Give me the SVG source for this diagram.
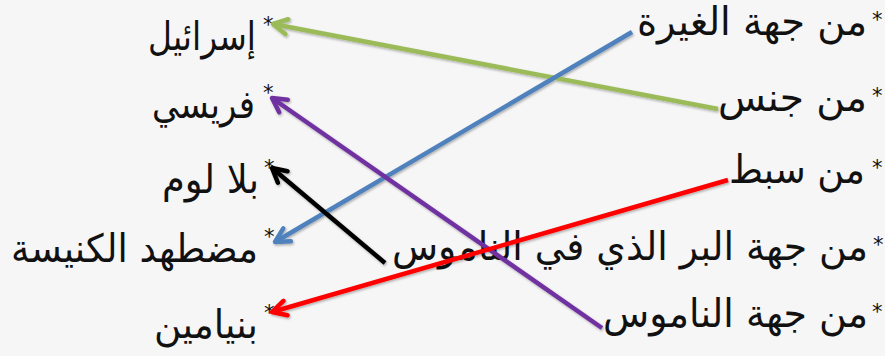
<svg xmlns="http://www.w3.org/2000/svg" width="885" height="356" viewBox="0 0 885 356">
<style>
.t{font-family:"DejaVu Sans",sans-serif;font-size:39px;fill:#111;text-anchor:end}
.s{font-family:"DejaVu Sans",sans-serif;font-size:21px;fill:#111}
.c{fill:none;stroke-width:4.5}
</style>
<defs>
<filter id="sh" x="-10%" y="-10%" width="120%" height="120%"><feDropShadow dx="1" dy="1.5" stdDeviation="1" flood-color="#000" flood-opacity="0.3"/></filter>
<marker id="mg" viewBox="0 0 20 20" refX="17" refY="10" markerWidth="20" markerHeight="20" markerUnits="userSpaceOnUse" orient="auto"><path d="M3,2.5 L17,10 L3,17.5" fill="none" stroke="#9bbb59" stroke-width="4.5" stroke-linecap="round" stroke-linejoin="round"/></marker>
<marker id="mb" viewBox="0 0 20 20" refX="17" refY="10" markerWidth="20" markerHeight="20" markerUnits="userSpaceOnUse" orient="auto"><path d="M3,2.5 L17,10 L3,17.5" fill="none" stroke="#4f81bd" stroke-width="4.5" stroke-linecap="round" stroke-linejoin="round"/></marker>
<marker id="mp" viewBox="0 0 20 20" refX="17" refY="10" markerWidth="20" markerHeight="20" markerUnits="userSpaceOnUse" orient="auto"><path d="M3,2.5 L17,10 L3,17.5" fill="none" stroke="#7030a0" stroke-width="4.5" stroke-linecap="round" stroke-linejoin="round"/></marker>
<marker id="mk" viewBox="0 0 20 20" refX="17" refY="10" markerWidth="20" markerHeight="20" markerUnits="userSpaceOnUse" orient="auto"><path d="M3,2.5 L17,10 L3,17.5" fill="none" stroke="#000" stroke-width="4.5" stroke-linecap="round" stroke-linejoin="round"/></marker>
<marker id="mr" viewBox="0 0 20 20" refX="17" refY="10" markerWidth="20" markerHeight="20" markerUnits="userSpaceOnUse" orient="auto"><path d="M3,2.5 L17,10 L3,17.5" fill="none" stroke="#ff0000" stroke-width="4.5" stroke-linecap="round" stroke-linejoin="round"/></marker>
</defs>
<rect width="885" height="356" fill="#f6f6f6"/>
<g id="left-israel"><text class="t" x="256" y="50" textLength="108" lengthAdjust="spacingAndGlyphs">إسرائيل</text><text class="s" x="263" y="32">*</text></g>
<g id="left-pharisee"><text class="t" x="255" y="118" textLength="103" lengthAdjust="spacingAndGlyphs">فريسي</text><text class="s" x="263" y="100">*</text></g>
<g id="left-blameless"><text class="t" x="259" y="193" textLength="97" lengthAdjust="spacingAndGlyphs">بلا لوم</text><text class="s" x="264" y="175">*</text></g>
<g id="left-persecutor"><text class="t" x="258" y="262" textLength="247" lengthAdjust="spacingAndGlyphs">مضطهد الكنيسة</text><text class="s" x="264" y="244">*</text></g>
<g id="left-benjamin"><text class="t" x="258" y="338" textLength="104" lengthAdjust="spacingAndGlyphs">بنيامين</text><text class="s" x="264" y="320">*</text></g>
<g id="right-zeal"><text class="t" x="867" y="35" textLength="230" lengthAdjust="spacingAndGlyphs">من جهة الغيرة</text><text class="s" x="872" y="27">*</text></g>
<g id="right-race"><text class="t" x="867" y="111" textLength="149" lengthAdjust="spacingAndGlyphs">من جنس</text><text class="s" x="872" y="103">*</text></g>
<g id="right-tribe"><text class="t" x="865" y="183" textLength="136" lengthAdjust="spacingAndGlyphs">من سبط</text><text class="s" x="872" y="175">*</text></g>
<g id="right-righteousness"><text class="t" x="868" y="260" textLength="476" lengthAdjust="spacingAndGlyphs">من جهة البر الذي في الناموس</text><text class="s" x="873" y="252">*</text></g>
<g id="right-law"><text class="t" x="868" y="327" textLength="265" lengthAdjust="spacingAndGlyphs">من جهة الناموس</text><text class="s" x="872" y="319">*</text></g>
<g id="connectors" filter="url(#sh)">
<line class="c" x1="718" y1="109" x2="273" y2="24" stroke="#9bbb59" marker-end="url(#mg)"/>
<line class="c" x1="632" y1="32" x2="275" y2="242" stroke="#4f81bd" marker-end="url(#mb)"/>
<line class="c" x1="602" y1="328" x2="272" y2="98" stroke="#7030a0" marker-end="url(#mp)"/>
<line class="c" x1="385" y1="263" x2="272" y2="168" stroke="#000" marker-end="url(#mk)"/>
<line class="c" x1="728" y1="180" x2="272" y2="312" stroke="#ff0000" marker-end="url(#mr)"/>
</g>
</svg>
